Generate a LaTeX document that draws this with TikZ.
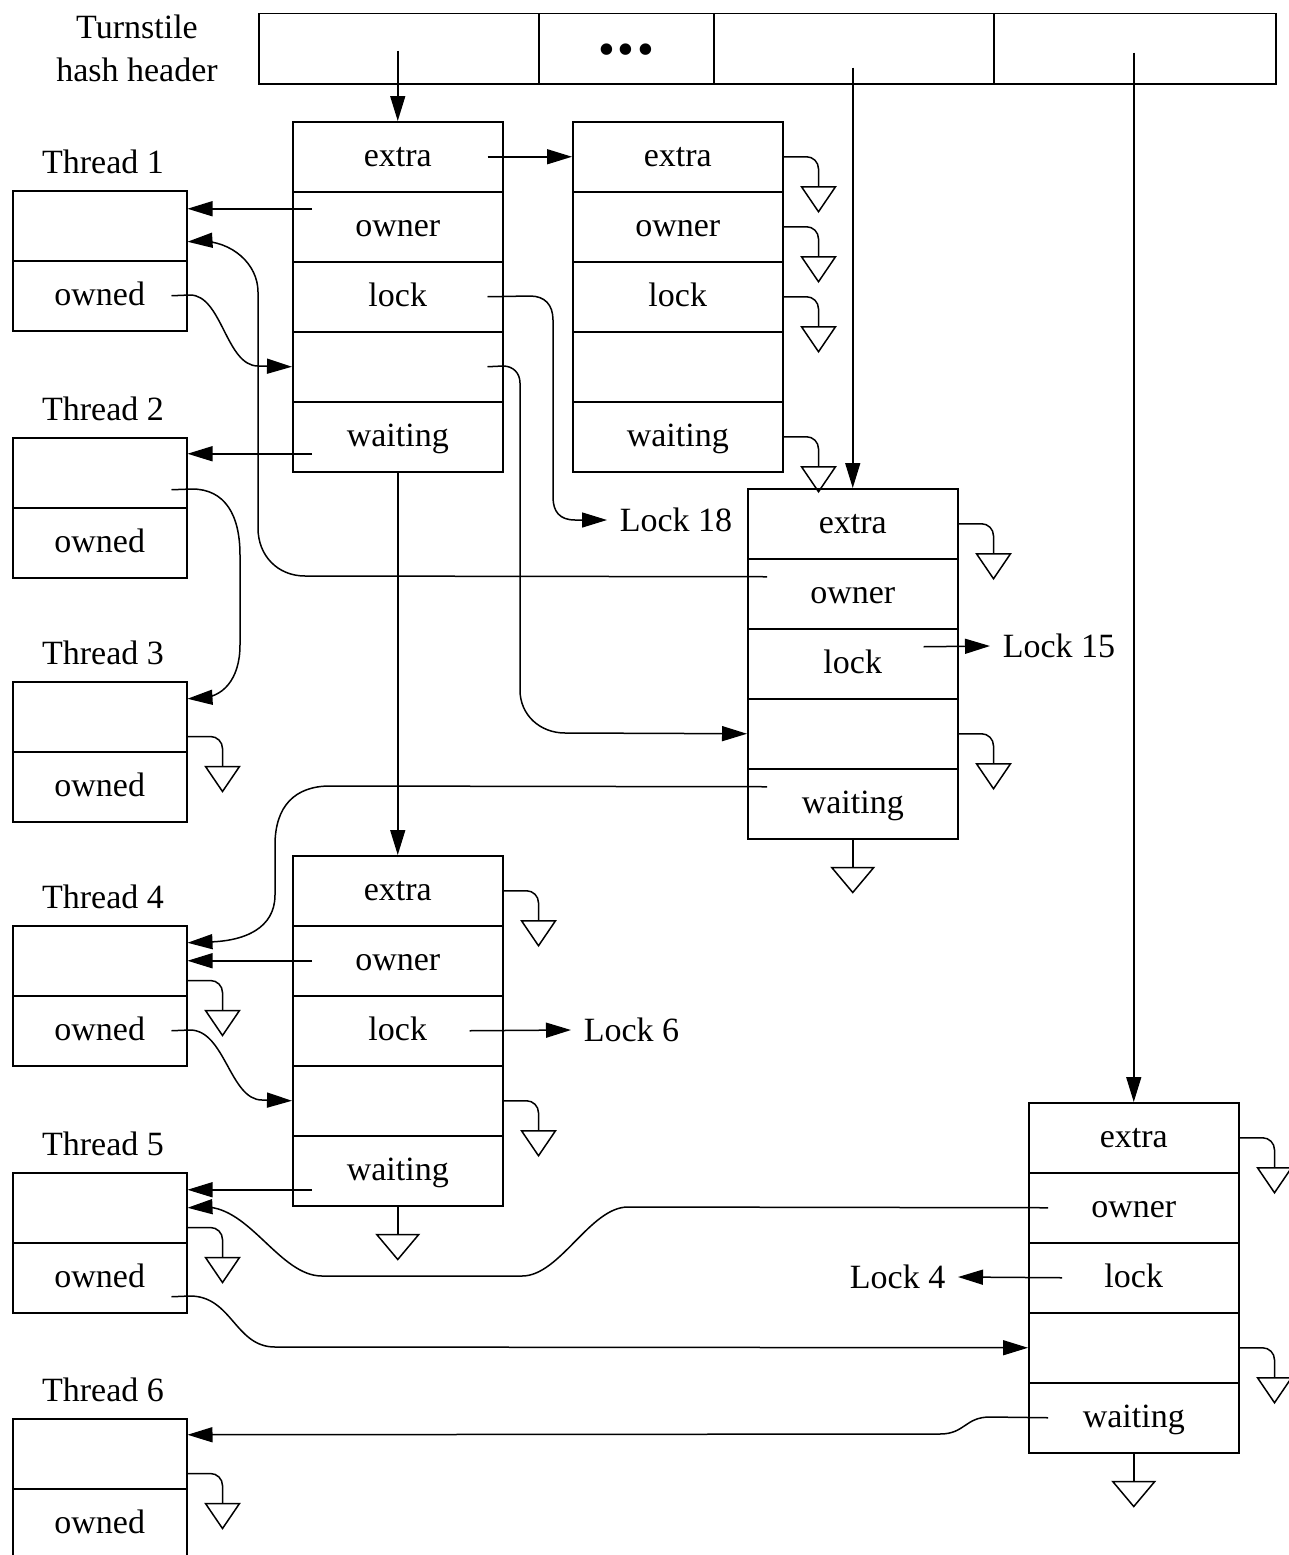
\documentclass[tikz,border=0pt]{standalone}
\usepackage{fontspec}
\setmainfont{Liberation Serif}
\usetikzlibrary{arrows.meta,calc}
\newcommand\tsbox[3]{%
  \node[row] (#1-1) at (#2,#3) {extra};
  \node[row] (#1-2) at (#2,#3+70) {owner};
  \node[row] (#1-3) at (#2,#3+140) {lock};
  \node[row] (#1-4) at (#2,#3+210) {};
  \node[row] (#1-5) at (#2,#3+280) {waiting};}
\newcommand\thr[3]{%
  \node (#1-l) at (103,#3-28) {Thread #2};
  \node[trow] (#1-1) at (12,#3) {};
  \node[trow] (#1-2) at (12,#3+70) {owned};}
\begin{document}
\begin{tikzpicture}[x=1pt,y=-1pt,line width=1.5pt,
  every node/.style={font=\fontsize{34}{43}\selectfont},
  row/.style={draw,minimum width=210pt,minimum height=70pt,inner sep=0pt,anchor=north west,text height=25pt,text depth=5pt},
  trow/.style={draw,minimum width=174pt,minimum height=70pt,inner sep=0pt,anchor=north west,text height=25pt,text depth=5pt},
  cell/.style={draw,minimum height=70pt,inner sep=0pt,anchor=north west},
  lbl/.style={inner sep=12pt},
  arr/.style={-{Triangle[length=25pt,width=15pt]}},
  nullr/.pic={\draw[rounded corners=12pt] (0,0) -| (35,30); \draw (18,30) -- (52,30) -- (35,55) -- cycle;},
  nulld/.pic={\draw (0,0) -- (0,28); \draw (-21,28) -- (21,28) -- (0,53) -- cycle;}]
\useasboundingbox (0,0) rectangle (1288,1555);
% header
\node[align=center] (TS) at (137,48) {Turnstile\\hash header};
\node[cell,minimum width=280pt] (H1) at (258,13) {};
\node[cell,minimum width=175pt,font=\fontsize{48}{48}\selectfont,text height=33pt,text depth=0pt] (H2) at (538,13) {•\hspace{3pt}•\hspace{3pt}•};
\node[cell,minimum width=280pt] (H3) at (713,13) {};
\node[cell,minimum width=282pt] (H4) at (993,13) {};
% turnstiles
\tsbox{A}{292}{121}
\tsbox{B}{572}{121}
\tsbox{C}{747}{488}
\tsbox{D}{292}{855}
\tsbox{E}{1028}{1102}
% threads
\thr{T1}{1}{190}
\thr{T2}{2}{437}
\thr{T3}{3}{681}
\thr{T4}{4}{925}
\thr{T5}{5}{1172}
\thr{T6}{6}{1418}
% lock labels
\node[lbl,anchor=west] (L18) at (607,520) {Lock 18};
\node[lbl,anchor=west] (L15) at (990,646) {Lock 15};
\node[lbl,anchor=west] (L6) at (571,1030) {Lock 6};
\node[lbl,anchor=east] (L4) at (958,1277) {Lock 4};
% header arrows
\draw[arr] ($(A-1.north |- H1.center)+(0,2)$) -- (A-1.north);
\draw[arr] ($(C-1.north |- H3.center)+(0,19)$) -- (C-1.north);
\draw[arr] ($(E-1.north |- H4.center)+(0,4)$) -- (E-1.north);
% connectors
\draw[arr] ($(A-1.east)+(-16,0)$) -- (B-1.west);
\draw[arr] ($(A-2.west)+(20,-18)$) -- ($(T1-1.east)+(0,-17)$);
\draw[arr] ($(A-3.east)+(-16,0)$) -- (530,296) .. controls (545,296) and (553,305) .. (553,320) -- (553,497) .. controls (553,512) and (560,520) .. (575,520) -- (L18.west);
\draw[arr] ($(A-4.east)+(-16,0)$) -- (503,366) .. controls (513,366) and (520,373) .. (520,383) -- (520,690) .. controls (520,715) and (540,733) .. (565,733) -- (C-4.west);
\draw[arr] ($(A-5.west)+(20,17)$) -- ($(T2-1.east)+(0,-19)$);
\draw[arr] (A-5.south) -- (D-1.north);
\draw[arr] ($(T1-2.east)+(-16,0)$) -- (190,295) .. controls (222,295) and (226,366) .. (258,366) -- (A-4.west);
\draw[arr] ($(C-2.west)+(20,-17)$) -- (305,576) .. controls (278,576) and (258,556) .. (258,528) -- (258,292) .. controls (258,264) and (232,241) .. (200,241) -- ($(T1-1.east)+(0,16)$);
\draw[arr] ($(T2-1.east)+(-16,17)$) -- (192,489) .. controls (225,489) and (240,515) .. (240,555) -- (240,645) .. controls (240,680) and (222,698) .. (200,698) -- ($(T3-1.east)+(0,-18)$);
\draw[arr] ($(C-3.east)+(-35,-17)$) -- (L15.west);
\draw[arr] ($(C-5.west)+(20,-17)$) -- (330,786) .. controls (295,786) and (275,806) .. (275,845) -- (275,895) .. controls (275,928) and (245,942) .. (205,942) -- ($(T4-1.east)+(0,-18)$);
\draw[arr] ($(D-2.west)+(20,0)$) -- (T4-1.east);
\draw[arr] ($(T4-2.east)+(-16,0)$) -- (190,1030) .. controls (225,1030) and (230,1100) .. (262,1100) -- (D-4.west);
\draw[arr] ($(D-3.east)+(-34,0)$) -- (L6.west);
\draw[arr] ($(D-5.west)+(20,19)$) -- ($(T5-1.east)+(0,-18)$);
\draw[arr] ($(E-2.west)+(20,0)$) -- (628,1207) .. controls (590,1207) and (560,1276) .. (522,1276) -- (322,1276) .. controls (280,1276) and (250,1207) .. (205,1207) -- (T5-1.east);
\draw[arr] ($(E-3.west)+(34,0)$) -- (L4.east);
\draw[arr] ($(T5-2.east)+(-16,19)$) -- (190,1296) .. controls (232,1296) and (235,1347) .. (275,1347) -- (E-4.west);
\draw[arr] ($(E-5.west)+(20,0)$) -- (990,1417) .. controls (965,1417) and (965,1434) .. (940,1434) -- ($(T6-1.east)+(0,-19)$);
% null pointers
\foreach \n in {B-1,B-2,B-3,B-5,C-1,C-4,D-1,D-4,E-1,E-4} {\pic at (\n.east) {nullr};}
\foreach \n in {C-5,D-5,E-5} {\pic at (\n.south) {nulld};}
\foreach \n in {T3-1,T4-1,T5-1,T6-1} {\pic at ($(\n.south east)+(0,-16)$) {nullr};}
\end{tikzpicture}
\end{document}
